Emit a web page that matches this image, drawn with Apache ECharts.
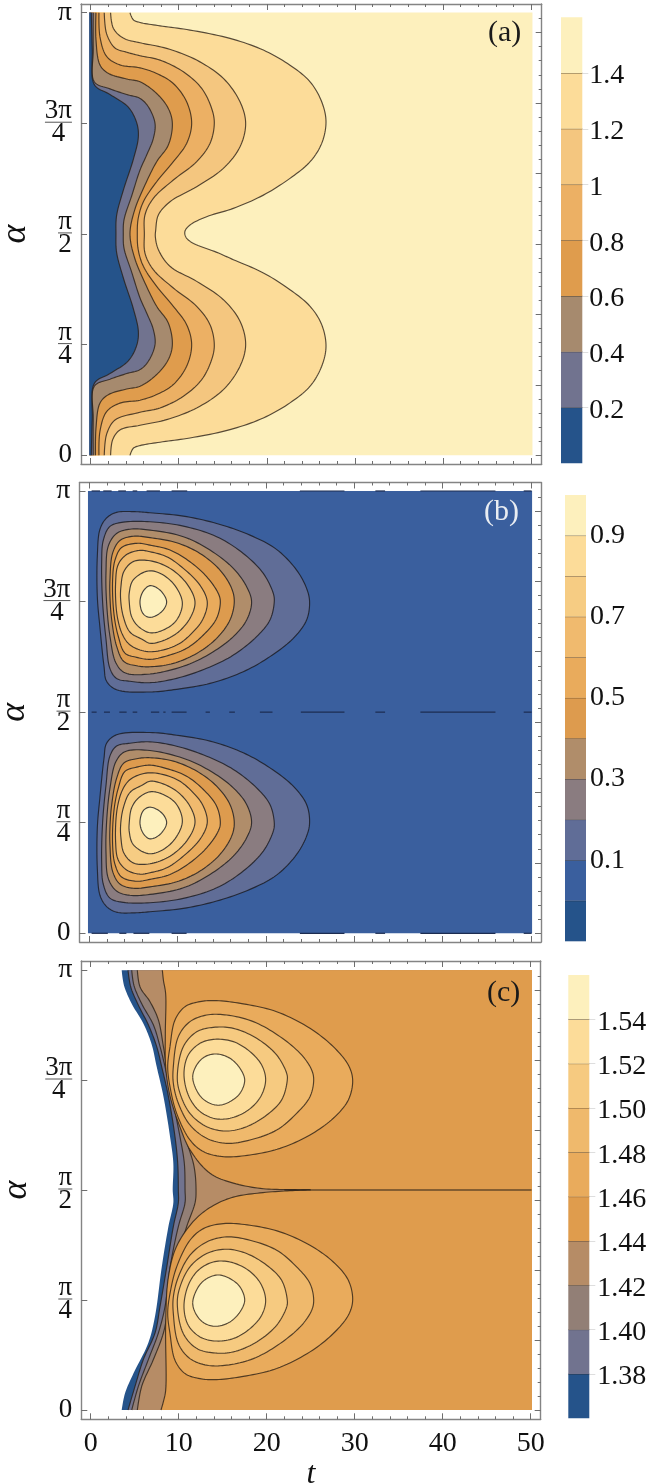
<!DOCTYPE html>
<html><head><meta charset="utf-8">
<style>html,body{margin:0;padding:0;background:#fff}#c{width:650px;height:1484px}</style>
<script src="https://cdn.jsdelivr.net/npm/echarts@6/dist/echarts.min.js"></script>
</head><body><div id="c"></div>
<script>
// ---------- axis ticks ----------
const tMajor=[0,10,20,30,40,50];
const tMinor=[0,2,4,6,8,12,14,16,18,22,24,26,28,32,34,36,38,42,44,46,48,50];
const alphaTicks=[0,0.7854,1.5708,2.3562,3.1416];
const alphaLabels=['0','{n|π}\n{b|}\n{d|4}','{n|π}\n{b|}\n{d|2}','{n|3π}\n{w|}\n{d|4}','{p|π}'];
const radMajor=[0,0.5,1,1.5,2,2.5,3];
const radMinor=[0.1,0.2,0.3,0.4,0.6,0.7,0.8,0.9,1.1,1.2,1.3,1.4,1.6,1.7,1.8,1.9,2.1,2.2,2.3,2.4,2.6,2.7,2.8,2.9,3.1];
// ---------- colours of the bands, low to high ----------
const bandsA=['#25538a','#71738f','#a68a6e','#df9c4d','#ecb064','#f4c67f','#fcdc99','#fdf0bd'];
const bandsB=['#25538a','#3a5f9e','#606d97','#8a7c80','#b08d6a','#dd9b4e','#e9ab5c','#f0ba6e','#f6cc83','#fcdc99','#fdf0bd'];
const bandsC=['#25538a','#71738f','#927f76','#b68c66','#df9c4d','#e9ab5c','#efb96c','#f6ca80','#fcdc99','#fdf0bd'];
// ---------- colour bar levels and labels ----------
const levelsA=[0,0.2,0.4,0.6,0.8,1,1.2,1.4,1.6];
const labelsA=[0.2,0.4,0.6,0.8,1,1.2,1.4];
const levelsB=[-0.1,0,0.1,0.2,0.3,0.4,0.5,0.6,0.7,0.8,0.9,1];
const labelsB=[0.1,0.3,0.5,0.7,0.9];
const levelsC=[1.36,1.38,1.40,1.42,1.44,1.46,1.48,1.50,1.52,1.54,1.56];
const labelsC=[1.38,1.40,1.42,1.44,1.46,1.48,1.50,1.52,1.54];
// ---------- panel (a): contours [t, alpha], alpha from pi to 0 ----------
const a02=[[.08,3.14],[.19,2.88],[.42,2.63],[2.2,2.56],[4.28,2.47],[5.23,2.36],[5.42,2.26],[4.85,2.10],[3.71,1.88],[2.95,1.70],[2.88,1.57],[2.95,1.44],[3.71,1.26],[4.85,1.04],[5.42,.88],[5.23,.78],[4.28,.67],[2.2,.58],[.42,.51],[.19,.26],[.08,0]];
const a04=[[.3,3.14],[.3,2.88],[.42,2.65],[2.2,2.60],[4.1,2.56],[5.61,2.532],[6.55,2.473],[7.31,2.355],[7.12,2.248],[6.36,2.13],[5.61,2.024],[4.66,1.84],[3.79,1.67],[3.71,1.57],[3.79,1.47],[4.66,1.30],[5.61,1.116],[6.36,1.01],[7.12,.892],[7.31,.785],[6.55,.667],[5.61,.608],[4.1,.58],[2.2,.54],[.42,.49],[.3,.26],[.3,0]];
const a06=[[.61,3.14],[.61,2.95],[1.06,2.77],[2.01,2.71],[4.09,2.67],[5.61,2.65],[7.5,2.567],[8.82,2.461],[9.28,2.355],[8.82,2.201],[7.5,2.083],[6.17,1.917],[5.0,1.74],[4.47,1.57],[5.0,1.40],[6.17,1.223],[7.5,1.057],[8.82,.939],[9.28,.785],[8.82,.679],[7.5,.573],[5.61,.49],[4.09,.47],[2.01,.43],[1.06,.37],[.61,.19],[.55,0]];
const a08=[[.95,3.14],[1.06,2.97],[1.82,2.83],[3.33,2.77],[5.61,2.749],[7.5,2.709],[9.39,2.638],[10.9,2.508],[11.47,2.355],[10.9,2.213],[9.39,2.083],[7.5,1.941],[5.99,1.799],[5.4,1.68],[5.3,1.57],[5.4,1.46],[5.99,1.341],[7.5,1.199],[9.39,1.057],[10.9,.927],[11.47,.785],[10.9,.632],[9.39,.502],[7.5,.431],[5.61,.391],[3.33,.37],[1.82,.31],[1.06,.17],[.95,0]];
const a10=[[1.55,3.14],[1.82,2.99],[2.77,2.89],[4.1,2.86],[5.61,2.835],[7.88,2.804],[10.53,2.721],[12.61,2.603],[13.74,2.461],[14.04,2.355],[13.55,2.213],[12.04,2.083],[9.39,1.953],[7.12,1.823],[6.17,1.705],[6.1,1.57],[6.17,1.435],[7.12,1.317],[9.39,1.187],[12.04,1.057],[13.55,.927],[14.04,.785],[13.74,.679],[12.61,.537],[10.53,.419],[7.88,.336],[5.61,.305],[2.77,.25],[1.82,.15],[1.55,0]];
const a12=[[2.27,3.14],[2.58,3.03],[3.71,2.96],[5.61,2.927],[8.63,2.887],[12.04,2.804],[15.07,2.674],[16.96,2.508],[17.6,2.355],[16.96,2.189],[15.07,2.036],[12.04,1.906],[9.01,1.799],[7.69,1.705],[7.39,1.598],[7.35,1.55],[7.69,1.46],[9.01,1.341],[12.04,1.234],[15.07,1.104],[16.96,.951],[17.6,.785],[16.96,.632],[15.07,.466],[12.04,.336],[8.63,.253],[5.61,.213],[3.33,.18],[2.5,.11],[2.27,0]];
const a14=[[4.47,3.14],[4.85,3.09],[5.61,3.071],[7.88,3.047],[11.28,3.017],[15.82,2.958],[19.61,2.875],[22.63,2.768],[24.91,2.65],[26.23,2.508],[26.72,2.367],[26.23,2.213],[24.91,2.083],[22.63,1.965],[19.61,1.846],[16.2,1.752],[13.17,1.693],[11.28,1.634],[10.71,1.59],[10.8,1.55],[11.48,1.51],[14.32,1.44],[16.2,1.388],[19.61,1.294],[22.63,1.175],[24.91,1.057],[26.23,.927],[26.72,.773],[26.23,.632],[24.91,.49],[22.63,.372],[19.61,.265],[15.82,.182],[11.28,.123],[7.88,.093],[5.61,.069],[4.85,.05],[4.47,0]];
// ---------- panel (b): closed contours, upper lobe ----------
const bU1=[[.91,2.68],[1.21,2.87],[1.96,2.95],[3.09,2.99],[4.98,2.995],[6.87,2.987],[10.65,2.963],[14.42,2.911],[18.2,2.828],[21.2,2.727],[23.48,2.58],[24.61,2.45],[24.95,2.355],[24.61,2.225],[23.1,2.095],[20.46,1.965],[17.44,1.858],[13.67,1.775],[9.89,1.733],[6.87,1.714],[3.09,1.73],[1.96,1.79],[1.66,1.90],[1.21,2.17],[.91,2.39]];
const bU2=[[1.40,2.63],[1.58,2.79],[2.34,2.89],[3.85,2.92],[6.87,2.923],[10.65,2.892],[14.42,2.817],[17.44,2.698],[19.71,2.556],[20.84,2.414],[20.95,2.355],[20.46,2.225],[18.95,2.107],[16.31,1.976],[13.29,1.882],[9.89,1.811],[6.87,1.78],[4.6,1.79],[3.09,1.81],[2.34,1.88],[1.89,2.09],[1.51,2.35]];
const bU3=[[1.89,2.56],[2.15,2.75],[3.09,2.84],[4.6,2.87],[6.87,2.864],[10.65,2.817],[13.67,2.722],[16.31,2.592],[17.82,2.462],[18.38,2.355],[17.82,2.225],[16.31,2.107],[14.04,2.0],[11.02,1.905],[6.87,1.842],[4.04,1.85],[3.02,1.92],[2.34,2.11],[1.96,2.35]];
const bU4=[[2.34,2.51],[2.64,2.70],[3.47,2.79],[4.98,2.82],[6.87,2.81],[9.89,2.774],[12.53,2.698],[14.8,2.58],[16.12,2.45],[16.42,2.355],[15.93,2.225],[14.42,2.095],[12.16,1.988],[9.51,1.917],[6.87,1.893],[5.36,1.90],[3.92,1.93],[3.09,2.04],[2.53,2.23],[2.34,2.39]];
const bU5=[[2.64,2.51],[2.91,2.65],[3.66,2.74],[5.36,2.77],[6.87,2.757],[9.14,2.722],[11.4,2.639],[13.29,2.533],[14.61,2.414],[14.84,2.355],[14.42,2.237],[13.1,2.13],[11.02,2.024],[8.76,1.97],[6.87,1.946],[5.36,1.96],[4.04,1.99],[3.28,2.11],[2.79,2.27]];
const bU6=[[2.98,2.49],[3.28,2.62],[4.23,2.69],[5.74,2.72],[6.87,2.71],[8.76,2.675],[10.65,2.592],[12.53,2.473],[13.36,2.355],[12.91,2.237],[11.78,2.142],[9.89,2.047],[6.87,2.0],[4.79,2.04],[3.85,2.11],[3.17,2.25]];
const bU7=[[3.58,2.46],[3.92,2.57],[4.98,2.64],[6.87,2.646],[9.14,2.592],[11.02,2.485],[11.97,2.355],[11.4,2.237],[9.89,2.13],[8,2.071],[6.87,2.06],[5.92,2.09],[4.6,2.14],[3.85,2.25],[3.55,2.37]];
const bU8=[[4.53,2.42],[4.98,2.51],[6.87,2.575],[9.14,2.509],[10.53,2.355],[9.89,2.225],[8.38,2.154],[6.87,2.135],[5.55,2.18],[4.79,2.25],[4.53,2.35]];
const bU9=[[5.74,2.355],[6.11,2.43],[6.87,2.469],[8,2.438],[8.76,2.355],[8.19,2.284],[6.87,2.244],[6.1,2.27]];
// ---------- panel (b): closed contours, lower lobe ----------
const bL1=[[.91,.46],[1.21,.27],[1.96,.19],[3.09,.15],[4.98,.145],[6.87,.153],[10.65,.177],[14.42,.229],[18.2,.312],[21.2,.413],[23.48,.56],[24.61,.69],[24.95,.785],[24.61,.915],[23.1,1.045],[20.46,1.175],[17.44,1.282],[13.67,1.365],[9.89,1.407],[6.87,1.426],[3.09,1.41],[1.96,1.35],[1.66,1.24],[1.21,.97],[.91,.75]];
const bL2=[[1.40,.51],[1.58,.35],[2.34,.25],[3.85,.22],[6.87,.217],[10.65,.248],[14.42,.323],[17.44,.442],[19.71,.584],[20.84,.726],[20.95,.785],[20.46,.915],[18.95,1.033],[16.31,1.164],[13.29,1.258],[9.89,1.329],[6.87,1.36],[4.6,1.35],[3.09,1.33],[2.34,1.26],[1.89,1.05],[1.51,.79]];
const bL3=[[1.89,.58],[2.15,.39],[3.09,.30],[4.6,.27],[6.87,.276],[10.65,.323],[13.67,.418],[16.31,.548],[17.82,.678],[18.38,.785],[17.82,.915],[16.31,1.033],[14.04,1.14],[11.02,1.235],[6.87,1.298],[4.04,1.29],[3.02,1.22],[2.34,1.03],[1.96,.79]];
const bL4=[[2.34,.63],[2.64,.44],[3.47,.35],[4.98,.32],[6.87,.33],[9.89,.366],[12.53,.442],[14.8,.56],[16.12,.69],[16.42,.785],[15.93,.915],[14.42,1.045],[12.16,1.152],[9.51,1.223],[6.87,1.247],[5.36,1.24],[3.92,1.21],[3.09,1.10],[2.53,.91],[2.34,.75]];
const bL5=[[2.64,.63],[2.91,.49],[3.66,.40],[5.36,.37],[6.87,.383],[9.14,.418],[11.4,.501],[13.29,.607],[14.61,.726],[14.84,.785],[14.42,.903],[13.1,1.01],[11.02,1.116],[8.76,1.17],[6.87,1.194],[5.36,1.18],[4.04,1.15],[3.28,1.03],[2.79,.87]];
const bL6=[[2.98,.65],[3.28,.52],[4.23,.45],[5.74,.42],[6.87,.43],[8.76,.465],[10.65,.548],[12.53,.667],[13.36,.785],[12.91,.903],[11.78,.998],[9.89,1.093],[6.87,1.14],[4.79,1.10],[3.85,1.03],[3.17,.89]];
const bL7=[[3.58,.68],[3.92,.57],[4.98,.50],[6.87,.494],[9.14,.548],[11.02,.655],[11.97,.785],[11.4,.903],[9.89,1.01],[8,1.069],[6.87,1.08],[5.92,1.05],[4.6,1.00],[3.85,.89],[3.55,.77]];
const bL8=[[4.53,.72],[4.98,.63],[6.87,.565],[9.14,.631],[10.53,.785],[9.89,.915],[8.38,.986],[6.87,1.005],[5.55,.96],[4.79,.89],[4.53,.79]];
const bL9=[[5.74,.785],[6.11,.71],[6.87,.671],[8,.702],[8.76,.785],[8.19,.856],[6.87,.896],[6.1,.87]];
// panel (b): broken zero-level contour, [tStart, tEnd] at alpha = pi, pi/2, 0
const bZeroTop=[[.26,1.21],[1.58,2.53],[3.28,4.15],[4.91,5.43],[6.49,8],[9.32,11.09],[23.85,28.9],[32.4,33.5],[37.5,46],[49.2,50.1]];
const bZeroMid=[[.26,.83],[1.66,2.34],[3.4,4.23],[4.91,5.43],[6.98,7.92],[8.38,8.64],[9.32,11.02],[13.17,13.66],[15.85,16.49],[19.32,20.75],[23.96,28.9],[32.4,33.5],[37.5,46],[49.2,50.1]];
const bZeroBot=[[.26,2.1],[3.4,4.2],[5,6.8],[9.32,11.02],[23.85,28.9],[32.4,33.5],[37.5,46],[49.2,50.1]];
// ---------- panel (c): open contours ----------
const cEdge=[[3.52,3.14],[3.79,3.03],[4.66,2.90],[5.98,2.76],[6.93,2.61],[7.5,2.45],[8.26,2.24],[9.02,1.95],[9.39,1.76],[9.32,1.57],[9.39,1.48],[8.83,1.31],[8.07,1.02],[7.31,.67],[6.55,.48],[4.85,.26],[3.9,.12],[3.52,0]];
const c138=[[4.24,3.14],[4.55,3.02],[5.42,2.89],[6.55,2.75],[7.5,2.595],[8.07,2.45],[8.83,2.24],[9.58,1.95],[9.89,1.76],[9.96,1.57],[9.96,1.48],[9.39,1.31],[8.64,1.02],[7.88,.74],[7.31,.55],[5.98,.36],[5.04,.17],[4.24,0]];
const c140=[[4.66,3.14],[4.92,3.03],[5.8,2.90],[7.12,2.75],[7.88,2.595],[8.45,2.45],[9.2,2.24],[10.15,1.95],[10.64,1.76],[10.72,1.57],[10.72,1.48],[9.96,1.31],[9.02,1.02],[8.45,.74],[7.69,.55],[6.55,.36],[5.42,.17],[4.66,0]];
const c142=[[5.3,3.14],[5.61,3.02],[6.74,2.915],[7.69,2.785],[8.26,2.595],[8.64,2.45],[9.39,2.24],[10.72,1.95],[11.74,1.74],[11.97,1.57],[11.86,1.48],[10.91,1.31],[9.58,1.02],[8.83,.74],[8.26,.55],[7.12,.36],[5.8,.17],[5.3,0]];
const c144U=[[8.14,3.14],[8.26,3.07],[8.52,2.97],[8.48,2.69],[8.52,2.45],[9.02,2.24],[10.15,2.02],[11.29,1.857],[13.56,1.69],[16.21,1.62],[19.62,1.58],[22.65,1.574],[25,1.571]];
const c144L=[[25,1.571],[22.65,1.566],[19.24,1.55],[16.21,1.52],[13.94,1.46],[11.86,1.36],[9.77,1.17],[8.83,.95],[8.52,.62],[8.52,.14],[8.26,.06],[7.99,0]];
const cMidLine=[[22,1.5708],[50.1,1.5708]];
// panel (c): closed contours
const cU146=[[9.01,2.594],[9.58,2.785],[10.72,2.88],[12.42,2.916],[14.31,2.923],[17.34,2.9],[21.13,2.844],[24.92,2.725],[27.57,2.594],[29.28,2.463],[29.77,2.356],[29.28,2.214],[27.57,2.083],[24.92,1.964],[21.51,1.868],[18.1,1.821],[15.07,1.809],[12.8,1.845],[11.28,1.928],[9.77,2.118],[9.01,2.309],[8.75,2.45]];
const cU148=[[9.39,2.452],[9.96,2.666],[11.28,2.773],[13.18,2.82],[15.45,2.82],[18.48,2.773],[21.51,2.666],[23.97,2.535],[25.11,2.428],[25.34,2.356],[24.92,2.237],[23.4,2.118],[21.13,1.999],[18.1,1.928],[15.45,1.904],[13.18,1.94],[11.28,2.035],[9.96,2.19],[9.39,2.333]];
const cU150=[[9.84,2.38],[10.52,2.594],[12.04,2.7],[13.93,2.732],[16.21,2.725],[18.86,2.654],[21.13,2.535],[22.27,2.404],[22.34,2.356],[21.7,2.214],[20,2.106],[17.72,2.023],[15.45,1.992],[13.18,2.023],[11.28,2.118],[10.15,2.261]];
const cU152=[[10.6,2.404],[11.09,2.535],[12.42,2.618],[14.12,2.647],[16.21,2.63],[18.1,2.559],[19.43,2.463],[19.88,2.356],[19.31,2.237],[17.91,2.142],[15.83,2.083],[13.93,2.083],[12.23,2.142],[11.09,2.249]];
const cU154=[[11.59,2.375],[12.04,2.463],[12.99,2.523],[14.31,2.542],[15.83,2.511],[16.96,2.44],[17.5,2.356],[16.96,2.261],[15.83,2.202],[14.5,2.176],[13.18,2.202],[12.23,2.261]];
const cL146=[[9.01,.546],[9.58,.355],[10.72,.26],[12.42,.224],[14.31,.217],[17.34,.24],[21.13,.296],[24.92,.415],[27.57,.546],[29.28,.677],[29.77,.784],[29.28,.926],[27.57,1.057],[24.92,1.176],[21.51,1.272],[18.1,1.319],[15.07,1.331],[12.8,1.295],[11.28,1.212],[9.77,1.022],[9.01,.831],[8.75,.69]];
const cL148=[[9.39,.688],[9.96,.474],[11.28,.367],[13.18,.32],[15.45,.32],[18.48,.367],[21.51,.474],[23.97,.605],[25.11,.712],[25.34,.784],[24.92,.903],[23.4,1.022],[21.13,1.141],[18.1,1.212],[15.45,1.236],[13.18,1.2],[11.28,1.105],[9.96,.95],[9.39,.807]];
const cL150=[[9.84,.76],[10.52,.546],[12.04,.44],[13.93,.408],[16.21,.415],[18.86,.486],[21.13,.605],[22.27,.736],[22.34,.784],[21.7,.926],[20,1.034],[17.72,1.117],[15.45,1.148],[13.18,1.117],[11.28,1.022],[10.15,.879]];
const cL152=[[10.6,.736],[11.09,.605],[12.42,.522],[14.12,.493],[16.21,.51],[18.1,.581],[19.43,.677],[19.88,.784],[19.31,.903],[17.91,.998],[15.83,1.057],[13.93,1.057],[12.23,.998],[11.09,.891]];
const cL154=[[11.59,.765],[12.04,.677],[12.99,.617],[14.31,.598],[15.83,.629],[16.96,.7],[17.5,.784],[16.96,.879],[15.83,.938],[14.5,.964],[13.18,.938],[12.23,.879]];

// ---------- plot limits ----------
const tL=-0.15,tR=50.15,aB=0,aT=3.1416;
const INK='rgba(40,30,20,0.78)';
const SERIF='"Liberation Serif","DejaVu Serif",serif';
const FRAME='#848484',TICK='#6e6e6e';
const LW=1.15;

function rectItem(fill){return {pts:[[tL,aT],[tR,aT],[tR,aB],[tL,aB]],raw:true,closed:true,fill};}
function leftRegion(pts,fill){return {pts,corners:[[tL,aB],[tL,aT]],fill,stroke:INK};}
function rightRegion(pts,fill,stroke){return {pts,corners:[[tR,aB],[tR,aT]],fill,stroke};}
function lobe(pts,fill){return {pts,closed:true,fill,stroke:'rgba(25,25,30,0.8)'};}
function dashes(list,alpha){return list.map(d=>({pts:[[d[0],alpha],[d[1],alpha]],stroke:'#1c2c50',lw:1.2}));}

const itemsA=[rectItem(bandsA[7]),leftRegion(a14,bandsA[6]),leftRegion(a12,bandsA[5]),leftRegion(a10,bandsA[4]),leftRegion(a08,bandsA[3]),leftRegion(a06,bandsA[2]),leftRegion(a04,bandsA[1]),leftRegion(a02,bandsA[0])];
const itemsB=[rectItem(bandsB[1])]
 .concat([bU1,bU2,bU3,bU4,bU5,bU6,bU7,bU8,bU9].map((p,i)=>lobe(p,bandsB[i+2])))
 .concat([bL1,bL2,bL3,bL4,bL5,bL6,bL7,bL8,bL9].map((p,i)=>lobe(p,bandsB[i+2])))
 .concat(dashes(bZeroTop,3.1416),dashes(bZeroMid,1.5708),dashes(bZeroBot,0));
const itemsC=[rightRegion(cEdge,bandsC[0]),rightRegion(c138,bandsC[1],INK),rightRegion(c140,bandsC[2],INK),rightRegion(c142,bandsC[3],INK),
 {pts:c144U,corners:[[tR,1.5708],[tR,aT]],fill:bandsC[4],stroke:INK},
 {pts:c144L,corners:[[tR,aB],[tR,1.5708]],fill:bandsC[4],stroke:INK},
 {pts:cMidLine,stroke:'#2a2118',lw:1.1}]
 .concat([cU146,cU148,cU150,cU152,cU154].map((p,i)=>lobe(p,bandsC[i+5])).map(o=>({...o,stroke:INK})))
 .concat([cL146,cL148,cL150,cL152,cL154].map((p,i)=>lobe(p,bandsC[i+5])).map(o=>({...o,stroke:INK})));

// centripetal Catmull-Rom through screen points
function spline(p,closed){
  if(p.length<3) return p;
  const n=p.length,out=[],steps=10,seg=closed?n:n-1;
  const g=i=>closed?p[(i+n)%n]:p[Math.max(0,Math.min(n-1,i))];
  const dt=(a,b)=>Math.max(1e-3,Math.pow(Math.hypot(b[0]-a[0],b[1]-a[1]),0.5));
  const mix=(a,b,ta,tb,t)=>[0,1].map(k=>(tb-ta<1e-6)?a[k]:((tb-t)*a[k]+(t-ta)*b[k])/(tb-ta));
  for(let i=0;i<seg;i++){
    const P0=g(i-1),P1=g(i),P2=g(i+1),P3=g(i+2);
    const t0=0,t1=t0+dt(P0,P1),t2=t1+dt(P1,P2),t3=t2+dt(P2,P3);
    for(let s=0;s<steps;s++){
      const t=t1+(t2-t1)*s/steps;
      const A1=mix(P0,P1,t0,t1,t),A2=mix(P1,P2,t1,t2,t),A3=mix(P2,P3,t2,t3,t);
      const B1=mix(A1,A2,t0,t2,t),B2=mix(A2,A3,t1,t3,t);
      out.push(mix(B1,B2,t1,t2,t));
    }
  }
  if(!closed) out.push(p[n-1]);
  return out;
}
function contourSeries(items,xi,yi){
  return {type:'custom',coordinateSystem:'cartesian2d',xAxisIndex:xi,yAxisIndex:yi,silent:true,animation:false,
    data:items.map((_,i)=>[i]),
    renderItem(params,api){
      const it=items[params.dataIndex];
      const scr=it.pts.map(q=>api.coord(q));
      const curve=it.raw?scr:spline(scr,!!it.closed);
      const kids=[];
      if(it.fill){
        const poly=it.corners?curve.concat(it.corners.map(q=>api.coord(q))):curve;
        kids.push({type:'polygon',shape:{points:poly},style:{fill:it.fill,stroke:null}});
      }
      if(it.stroke){
        const line=it.closed?curve.concat([curve[0]]):curve;
        kids.push({type:'polyline',shape:{points:line},style:{fill:null,stroke:it.stroke,lineWidth:it.lw||LW}});
      }
      return {type:'group',children:kids};
    }};
}
function barSeries(levels,colors,xi,yi){
  return {type:'custom',coordinateSystem:'cartesian2d',xAxisIndex:xi,yAxisIndex:yi,silent:true,animation:false,
    data:colors.map((c,i)=>[0,levels[i],1,levels[i+1]]),
    encode:{x:[0,2],y:[1,3]},
    renderItem(params,api){
      const a=api.coord([api.value(0),api.value(1)]),b=api.coord([api.value(2),api.value(3)]);
      const kids=[{type:'rect',shape:{x:a[0],y:b[1],width:b[0]-a[0],height:a[1]-b[1]},style:{fill:colors[params.dataIndex],stroke:null}}];
      if(params.dataIndex<colors.length-1) kids.push({type:'line',shape:{x1:a[0],y1:b[1],x2:b[0],y2:b[1]},style:{stroke:'rgba(40,32,25,0.62)',lineWidth:1}});
      return {type:'group',children:kids};
    }};
}

const panels=[
 {items:itemsA,letter:'(a)',lc:'#1a1a1a',g:[81,4,460.7,460],x:[-1.09,51.2],y:[-.0617,3.202],nameGap:44,letterX:488,letterY:18,
  bar:{g:[561,17.3,21.3,446],y:[0,1.6],levels:levelsA,colors:bandsA,labels:labelsA,margin:7,fmt:v=>'{v|'+(v===1?'1':v.toFixed(1))+'}',tick:6,pad:[6,0,0,0]}},
 {items:itemsB,letter:'(b)',lc:'#e9edf2',g:[79.5,482.5,461.5,459.5],x:[-1.11,51.16],y:[-.0618,3.2019],nameGap:39,letterX:484,letterY:497,
  bar:{g:[565,495,21,446.3],y:[-.1,1],levels:levelsB,colors:bandsB,labels:labelsB,margin:4,fmt:v=>'{v|'+v.toFixed(1)+'}',tick:0,pad:[0,0,0,0]}},
 {items:itemsC,letter:'(c)',lc:'#1a1a1a',g:[81.3,961,459.4,458.3],x:[-1.07,51.14],y:[-.0664,3.2059],nameGap:46,letterX:487,letterY:978,xLabels:true,
  bar:{g:[568.3,975,21,443.3],y:[1.36,1.56],levels:levelsC,colors:bandsC,labels:labelsC,margin:8,fmt:v=>'{v|'+v.toFixed(2)+'}',tick:6,pad:[6,0,0,0]}}
];

const grid=[],xAxis=[],yAxis=[],series=[],title=[];
const richLabel={
  n:{fontFamily:SERIF,fontSize:27,lineHeight:20,align:'center',color:'#111'},
  d:{fontFamily:SERIF,fontSize:27,lineHeight:22,align:'center',color:'#111'},
  b:{width:14,height:1,lineHeight:2,backgroundColor:'#555',align:'center'},
  w:{width:27,height:1,lineHeight:2,backgroundColor:'#555',align:'center'},
  p:{fontFamily:SERIF,fontSize:28,color:'#111'}
};
const noLine={show:false,onZero:false};
panels.forEach(P=>{
  const gi=grid.length;
  grid.push({left:P.g[0],top:P.g[1],width:P.g[2],height:P.g[3],containLabel:false,outerBoundsMode:'none'});
  const line={show:true,onZero:false,lineStyle:{color:FRAME,width:1.4}};
  const base={gridIndex:gi,type:'value',min:P.x[0],max:P.x[1],splitLine:{show:false},axisLabel:{show:false},axisLine:noLine};
  const tk=(vals,len)=>({show:true,inside:true,length:len,customValues:vals,lineStyle:{color:TICK,width:1}});
  const xi=xAxis.length;
  xAxis.push({...base,position:'bottom',axisLine:line,axisTick:tk(tMajor,6),
    axisLabel:P.xLabels?{show:true,customValues:tMajor,margin:10,color:'#111',fontFamily:SERIF,fontSize:28,formatter:v=>String(v)}:{show:false},
    name:P.xLabels?'t':'',nameLocation:'middle',nameGap:34,nameTextStyle:{fontFamily:SERIF,fontSize:32,fontStyle:'italic',color:'#111'}});
  xAxis.push({...base,position:'bottom',axisTick:tk(tMinor,3)});
  xAxis.push({...base,position:'top',axisLine:line,axisTick:tk(tMajor,6)});
  xAxis.push({...base,position:'top',axisTick:tk(tMinor,3)});
  const ybase={gridIndex:gi,type:'value',min:P.y[0],max:P.y[1],splitLine:{show:false},axisLabel:{show:false},axisLine:noLine};
  const yi=yAxis.length;
  yAxis.push({...ybase,position:'left',axisLine:line,axisTick:tk(alphaTicks,6),
    axisLabel:{show:true,customValues:alphaTicks,margin:9,color:'#111',fontFamily:SERIF,fontSize:27,rich:richLabel,
      formatter:v=>alphaLabels[alphaTicks.indexOf(v)]},
    name:'α',nameLocation:'middle',nameRotate:90,nameGap:P.nameGap,nameTextStyle:{fontFamily:SERIF,fontSize:36,fontStyle:'italic',color:'#111'}});
  yAxis.push({...ybase,position:'right',axisLine:line,axisTick:tk(radMajor,6)});
  yAxis.push({...ybase,position:'right',axisTick:tk(radMinor,3)});
  series.push(contourSeries(P.items,xi,yi));
  title.push({text:P.letter,left:P.letterX,top:P.letterY,padding:0,textStyle:{fontFamily:SERIF,fontSize:30,fontWeight:'normal',color:P.lc}});
  // colour bar
  const B=P.bar,bi=grid.length;
  grid.push({left:B.g[0],top:B.g[1],width:B.g[2],height:B.g[3],containLabel:false,outerBoundsMode:'none'});
  const bx=xAxis.length,by=yAxis.length;
  xAxis.push({gridIndex:bi,type:'value',min:0,max:1,show:false});
  yAxis.push({gridIndex:bi,type:'value',position:'right',min:B.y[0],max:B.y[1],splitLine:{show:false},
    axisLine:noLine,
    axisTick:{show:B.tick>0,length:B.tick,customValues:B.labels,lineStyle:{color:'#dedede',width:1}},
    axisLabel:{show:true,customValues:B.labels,margin:B.margin,color:'#111',fontFamily:SERIF,fontSize:28,align:'left',formatter:B.fmt,
      rich:{v:{fontFamily:SERIF,fontSize:28,color:'#111',padding:B.pad}}}});
  series.push(barSeries(B.levels,B.colors,bx,by));
});
const chart=echarts.init(document.getElementById('c'),null,{renderer:'canvas',width:650,height:1484});
chart.setOption({backgroundColor:'#fff',animation:false,title,grid,xAxis,yAxis,series});
</script></body></html>
